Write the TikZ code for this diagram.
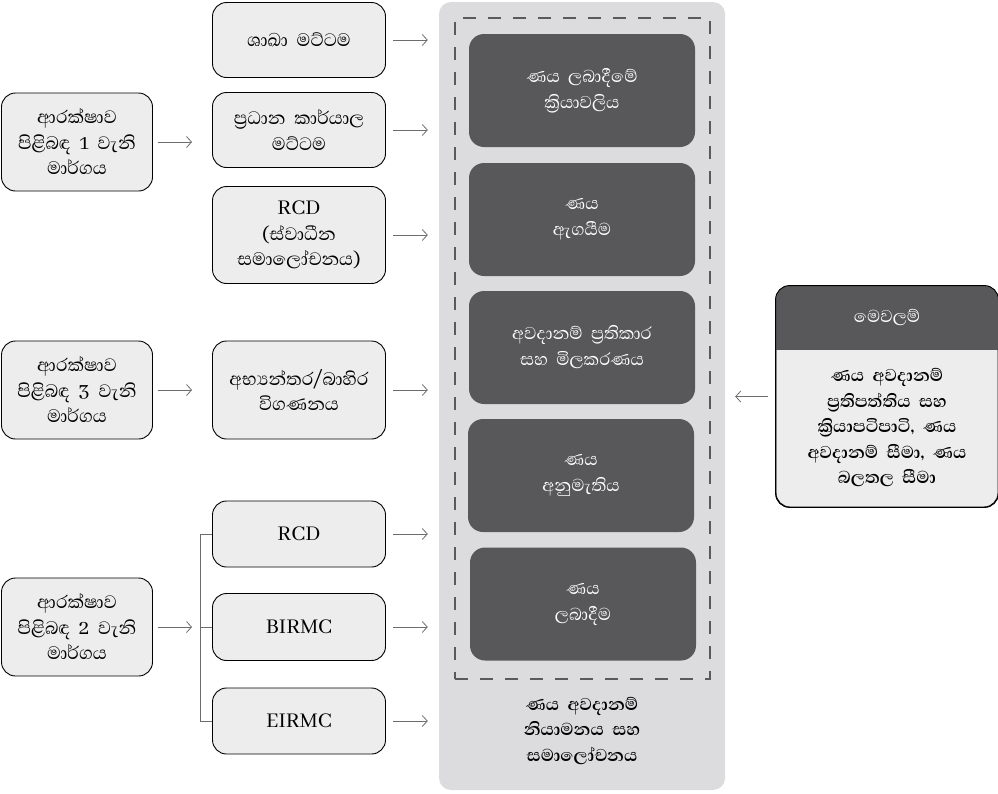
\documentclass[tikz,border=0pt]{standalone}
\usepackage{fontspec}
\setmainfont[Script=Sinhala,WordSpace=2]{Abhaya Libre}
\usepackage{tikz}
\usetikzlibrary{arrows.meta,positioning,calc}
\definecolor{boxgray}{HTML}{EDEDED}
\definecolor{colgray}{HTML}{DCDCDE}
\definecolor{stepgray}{HTML}{58585A}
\definecolor{dashgray}{HTML}{5A5A5A}
\definecolor{arrgray}{HTML}{6D6D6D}
\tikzset{
  blk/.style={draw,rectangle,rounded corners=14pt,fill=boxgray,line width=0.9pt,align=center,
    font=\fontsize{23}{25.5}\selectfont},
  srcblk/.style={blk,minimum width=151pt,minimum height=98pt},
  lvlblk/.style={blk,minimum width=173pt,minimum height=75pt},
  stepblk/.style={rectangle,rounded corners=15pt,fill=stepgray,text=white,align=center,
    minimum width=226pt,minimum height=113pt,font=\fontsize{22}{26}\selectfont},
  arr/.style={-{Straight Barb[length=5pt,width=11pt]},arrgray,line width=0.8pt},
  brk/.style={arrgray,line width=0.8pt},
  lbl/.style={align=center,font=\fontsize{22}{25.5}\selectfont\bfseries}
}
\begin{document}
\begin{tikzpicture}[x=1pt,y=-1pt]
  \useasboundingbox (0,0) rectangle (998,793);
  % Review column
  \node[rectangle,rounded corners=12pt,fill=colgray,minimum width=286pt,minimum height=788pt] (col) at (582,396) {};
  \node[rectangle,draw=dashgray,line width=2.5pt,dash pattern=on 13pt off 12pt,minimum width=255pt,minimum height=661pt] (grp) at (582.5,348.5) {};

  % Lending steps
  \node[stepblk] (d1) at (582,90.5) {ණය ලබාදීමේ \\ ක්^^^^200dරියාවලිය};
  \node[stepblk] (d2) at (582,219.5) {ණය \\ ඇගයීම};
  \node[stepblk] (d3) at (582,347.5) {අවදානම් ප්^^^^200dරතිකාර \\ සහ මිලකරණය};
  \node[stepblk] (d4) at (581,475.5) {ණය \\ අනුමැතිය};
  \node[stepblk] (d5) at (583,604) {ණය \\ ලබාදීම};
  \node[lbl] (reg) at (582,731) {ණය අවදානම් \\ නියාමනය සහ \\ සමාලෝචනය};

  % Lines of defence
  \node[srcblk] (s1) at (77,142) {ආරක්ෂාව \\ පිළිබඳ 1 වැනි \\ මාර්ගය};
  \node[srcblk] (s3) at (77,390) {ආරක්ෂාව \\ පිළිබඳ 3 වැනි \\ මාර්ගය};
  \node[srcblk] (s2) at (77,627) {ආරක්ෂාව \\ පිළිබඳ 2 වැනි \\ මාර්ගය};

  % Review levels
  \node[lvlblk] (m1) at (299,40) {ශාඛා මට්ටම};
  \node[lvlblk] (m2) at (299,130) {ප්^^^^200dරධාන කාර්යාල \\ මට්ටම};
  \node[lvlblk,minimum height=97pt] (m3) at (299,235) {RCD \\ (ස්වාධීන \\ සමාලෝචනය)};
  \node[lvlblk,minimum height=98pt] (m4) at (299,390) {අභ්^^^^200dයන්තර/බාහිර \\ විගණනය};
  \node[lvlblk,minimum height=66pt] (m5) at (299,534) {RCD};
  \node[lvlblk,minimum height=67pt] (m6) at (299,627) {BIRMC};
  \node[lvlblk,minimum height=66pt] (m7) at (299,721) {EIRMC};

  % Connections
  \foreach \s/\t in {s1/m2,s3/m4,s2/m6}
    \draw[arr,shorten <=5pt,shorten >=20pt] (\s.east) -- (\s.east -| \t.west);
  \foreach \m in {m1,m2,m3,m4,m5,m6,m7}
    \draw[arr,shorten <=7pt,shorten >=11pt] (\m.east) -- (\m.east -| col.west);
  \draw[brk] (m5.west) -- ++(-12,0) |- (m7.west);
  \draw[brk] (m6.west) -- ++(-12,0);

  % Tools
  \node[blk,minimum width=222pt,minimum height=221pt] (tool) at (887,396.5) {};
  \begin{scope}
    \clip[rounded corners=14pt] (tool.south west) rectangle (tool.north east);
    \fill[stepgray] (tool.north west) rectangle ($(tool.north east)+(0,64)$);
  \end{scope}
  \draw[line width=0.9pt,rounded corners=14pt] (tool.south west) rectangle (tool.north east);
  \node[text=white,font=\fontsize{22}{25}\selectfont] (toolhdr) at ($(tool.north)+(0,32)$) {මෙවලම්};
  \node[lbl] (tooltxt) at (887,428) {ණය අවදානම් \\ ප්^^^^200dරතිපත්තිය සහ \\ ක්^^^^200dරියාපටිපාටි, ණය \\ අවදානම් සීමා, ණය \\ බලතල සීමා};
  \draw[arr,shorten <=8pt,shorten >=10pt] (tool.west) -- (tool.west -| col.east);
\end{tikzpicture}
\end{document}
